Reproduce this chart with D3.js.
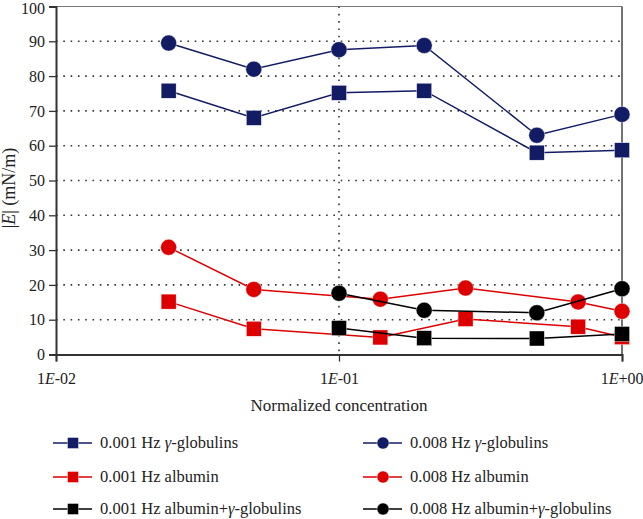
<!DOCTYPE html>
<html><head><meta charset="utf-8">
<script src="https://cdn.jsdelivr.net/npm/d3@7"></script>
<style>body{margin:0;background:#fff}svg{display:block}</style>
</head><body><svg id="c" width="643" height="519"></svg>
<script>
// ---- data ----
const blueX = [0.025, 0.05, 0.1, 0.2, 0.5, 1];
const blueSq = [75.8, 68, 75.2, 75.8, 58, 58.7];
const blueCi = [89.5, 82, 87.6, 88.8, 63, 69];
const redX = [0.025, 0.05, 0.14, 0.28, 0.7, 1];
const redSq = [15.2, 7.4, 4.9, 10.2, 8.0, 5.0];
const redCi = [30.8, 18.7, 15.9, 19.1, 15.1, 12.4];
const blackX = [0.1, 0.2, 0.5, 1];
const blackSq = [7.6, 4.7, 4.6, 5.9];
const blackCi = [17.6, 12.7, 12.0, 18.9];
const xTicks = [0.01, 0.1, 1];
const xTickLabels = [["1", "E", "-02"], ["1", "E", "-01"], ["1", "E", "+00"]];
const yTicks = [0, 10, 20, 30, 40, 50, 60, 70, 80, 90, 100];
const seriesNames = ["0.001 Hz \u03b3-globulins", "0.008 Hz \u03b3-globulins",
  "0.001 Hz albumin", "0.008 Hz albumin",
  "0.001 Hz albumin+\u03b3-globulins", "0.008 Hz albumin+\u03b3-globulins"];

const NAVY = "#121c64", RED = "#dd0000", BLACK = "#000";
const FONT = "'Liberation Serif', 'Times New Roman', serif";
const series = [
  {name: seriesNames[0], x: blueX, y: blueSq, color: NAVY, shape: "sq"},
  {name: seriesNames[1], x: blueX, y: blueCi, color: NAVY, shape: "ci"},
  {name: seriesNames[2], x: redX, y: redSq, color: RED, shape: "sq"},
  {name: seriesNames[3], x: redX, y: redCi, color: RED, shape: "ci"},
  {name: seriesNames[4], x: blackX, y: blackSq, color: BLACK, shape: "sq"},
  {name: seriesNames[5], x: blackX, y: blackCi, color: BLACK, shape: "ci"}
];

const svg = d3.select("#c");
const L = 56, R = 622, T = 6.5, B = 354.5;
const x = d3.scaleLog().domain([0.01, 1]).range([L, R]);
const y = d3.scaleLinear().domain([0, 100]).range([B, T]);

function txt(sel, size) {
  return sel.style("font-family", FONT).style("font-size", size + "px").style("fill", "#222");
}

// grid
const g = svg.append("g");
g.selectAll("line.h").data(yTicks.filter(v => v > 0 && v < 100)).join("line")
  .attr("x1", L).attr("x2", R).attr("y1", d => y(d)).attr("y2", d => y(d))
  .attr("stroke", "#333").attr("stroke-width", 1.6).attr("stroke-dasharray", "1.6,5.7");
g.append("line").attr("x1", x(0.1)).attr("x2", x(0.1)).attr("y1", T).attr("y2", B)
  .attr("stroke", "#333").attr("stroke-width", 1.6).attr("stroke-dasharray", "1.6,5.7");

// frame top/right
svg.append("line").attr("x1", L).attr("x2", R).attr("y1", T).attr("y2", T).attr("stroke", "#777").attr("stroke-width", 1);
svg.append("line").attr("x1", R).attr("x2", R).attr("y1", T).attr("y2", B).attr("stroke", "#444").attr("stroke-width", 1.5);

// axes
const yAxis = svg.append("g").attr("transform", `translate(${L},0)`)
  .call(d3.axisLeft(y).tickValues(yTicks).tickSize(7).tickPadding(4).tickFormat(d3.format("d")));
yAxis.select(".domain").attr("stroke", "#333").attr("stroke-width", 2);
yAxis.selectAll(".tick line").attr("stroke", "#333").attr("stroke-width", 1.3);
txt(yAxis.selectAll(".tick text"), 16);
yAxis.selectAll(".tick text").filter(d => d === 100).attr("y", 2);

const xAxis = svg.append("g").attr("transform", `translate(0,${B})`)
  .call(d3.axisBottom(x).tickValues(xTicks).tickSize(7).tickPadding(11).tickFormat(() => ""));
xAxis.select(".domain").attr("stroke", "#333").attr("stroke-width", 2);
xAxis.selectAll(".tick line").attr("stroke", "#333").attr("stroke-width", 1.3);
xAxis.selectAll(".tick text").each(function(d, i) {
  const t = txt(d3.select(this), 16);
  if (i === xTicks.length - 1) t.attr("text-anchor", "end").attr("x", 21);
  const p = xTickLabels[i];
  t.append("tspan").text(p[0]);
  t.append("tspan").style("font-style", "italic").text(p[1]);
  t.append("tspan").text(p[2]);
});

// axis titles
txt(svg.append("text"), 17).attr("x", (L + R) / 2).attr("y", 411).attr("text-anchor", "middle")
  .text("Normalized concentration");
const yl = txt(svg.append("text"), 18).attr("transform", "translate(15,188) rotate(-90)").attr("text-anchor", "middle");
yl.append("tspan").text("|");
yl.append("tspan").style("font-style", "italic").text("E");
yl.append("tspan").text("| (mN/m)");

// series
const line = d3.line().x(d => x(d[0])).y(d => y(d[1]));
function marker(sel, shape, color, size) {
  if (shape === "sq") {
    sel.append("rect").attr("x", -size / 2).attr("y", -size / 2).attr("width", size).attr("height", size)
      .attr("fill", color).attr("stroke", "#fff").attr("stroke-width", 0.4);
  } else {
    sel.append("circle").attr("r", size / 2).attr("fill", color).attr("stroke", "#fff").attr("stroke-width", 0.4);
  }
}
series.forEach(s => {
  const pts = s.x.map((v, i) => [v, s.y[i]]);
  const sg = svg.append("g");
  sg.append("path").attr("d", line(pts)).attr("fill", "none").attr("stroke", s.color).attr("stroke-width", 1.5);
  pts.forEach(p => {
    const m = sg.append("g").attr("transform", `translate(${x(p[0])},${y(p[1])})`);
    marker(m, s.shape, s.color, s.shape === "sq" ? 15 : 16);
  });
});

// legend
const legX = [53, 363], legY = [443, 477, 509];
series.forEach((s, i) => {
  const col = i % 2, row = Math.floor(i / 2);
  const lg = svg.append("g").attr("transform", `translate(${legX[col]},${legY[row]})`);
  lg.append("line").attr("x1", 0).attr("x2", 39).attr("y1", 0).attr("y2", 0).attr("stroke", s.color).attr("stroke-width", 1.5);
  const m = lg.append("g").attr("transform", "translate(20,0)");
  marker(m, s.shape, s.color, s.shape === "sq" ? 11 : 12);
  const t = txt(lg.append("text"), 16.5).attr("x", 47).attr("y", 5);
  const parts = s.name.split("\u03b3");
  t.append("tspan").text(parts[0]);
  if (parts.length > 1) {
    t.append("tspan").style("font-style", "italic").text("\u03b3");
    t.append("tspan").text(parts[1]);
  }
});
</script></body></html>
